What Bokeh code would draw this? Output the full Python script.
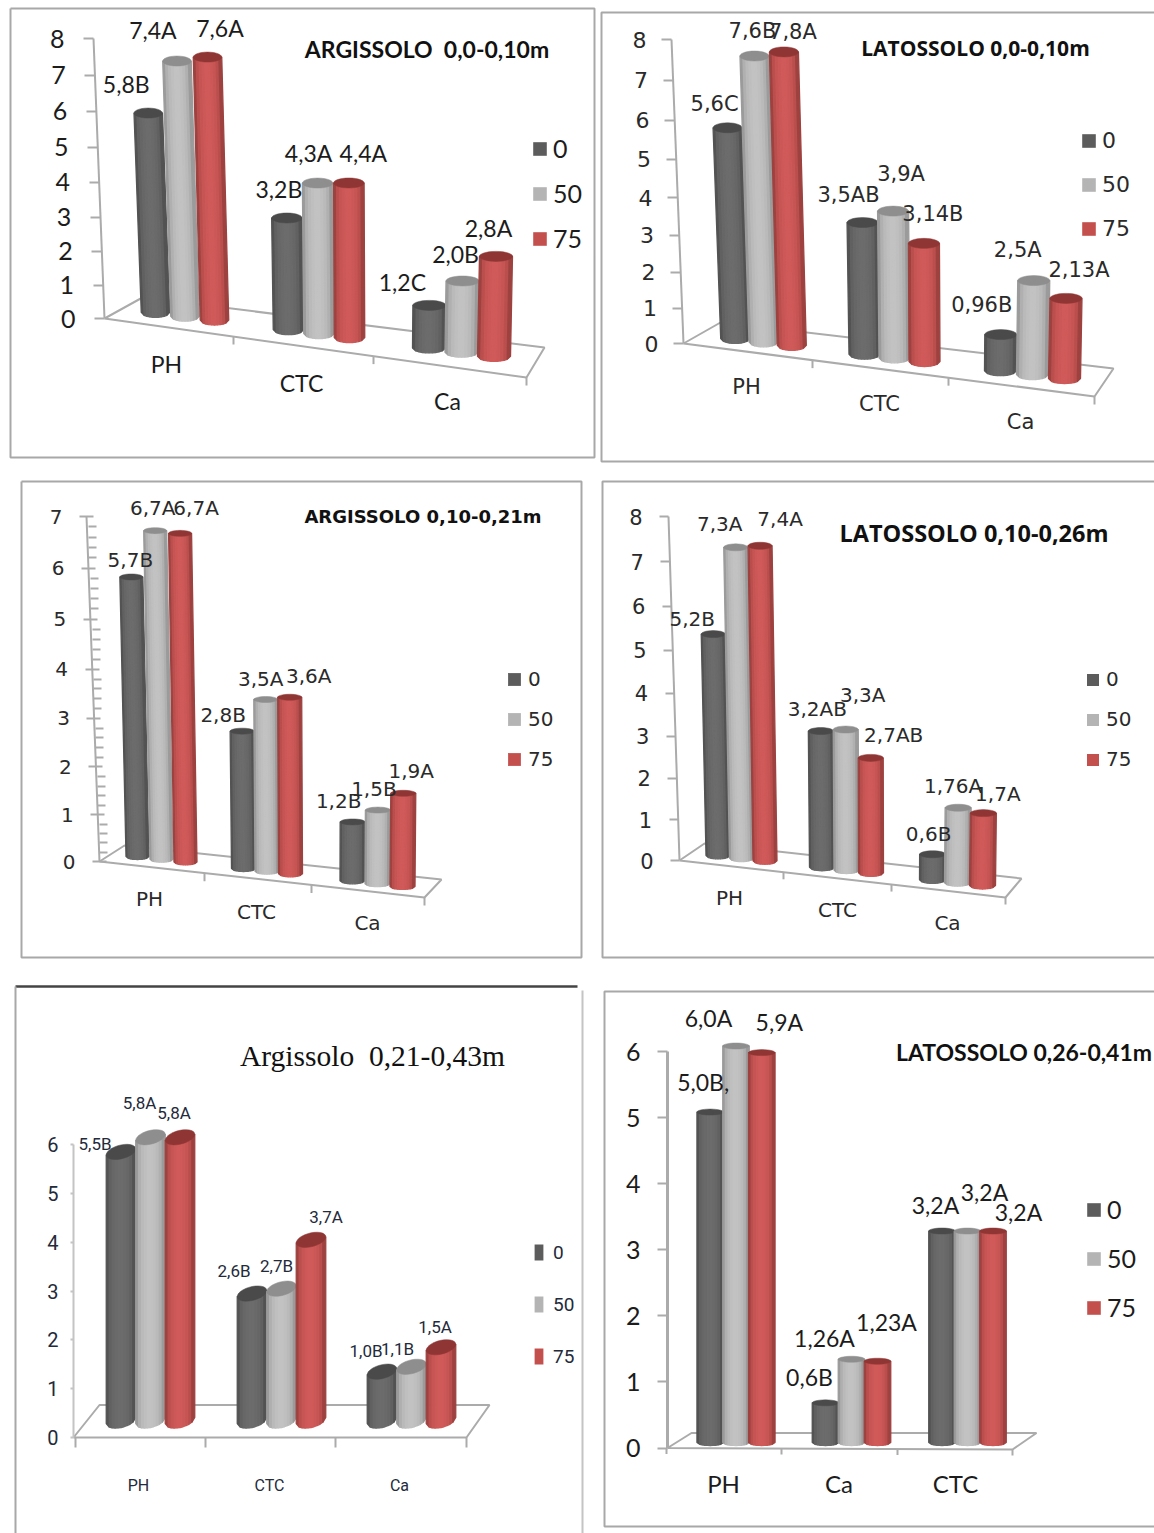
from math import cos, pi, sin, sqrt

from bokeh.core.properties import value
from bokeh.embed import file_html
from bokeh.layouts import column, row
from bokeh.models import (ColumnDataSource, FixedTicker, Legend, LegendItem,
                          LinearAxis, Range1d)
from bokeh.plotting import figure
from bokeh.resources import INLINE

# Dose series shared by all six charts
series_names = ["0", "50", "75"]

# Soil chemistry values, one list per dose, in category order
arg_a_categories = ["PH", "CTC", "Ca"]
arg_a_0 = [5.8, 3.2, 1.2]
arg_a_50 = [7.4, 4.3, 2.0]
arg_a_75 = [7.6, 4.4, 2.8]
arg_a_labels = ["5,8B", "7,4A", "7,6A", "3,2B", "4,3A", "4,4A", "1,2C", "2,0B", "2,8A"]

lat_a_categories = ["PH", "CTC", "Ca"]
lat_a_0 = [5.6, 3.5, 0.96]
lat_a_50 = [7.6, 3.9, 2.5]
lat_a_75 = [7.8, 3.14, 2.13]
lat_a_labels = ["5,6C", "7,6B", "7,8A", "3,5AB", "3,9A", "3,14B", "0,96B", "2,5A", "2,13A"]

arg_b_categories = ["PH", "CTC", "Ca"]
arg_b_0 = [5.7, 2.8, 1.2]
arg_b_50 = [6.7, 3.5, 1.5]
arg_b_75 = [6.7, 3.6, 1.9]
arg_b_labels = ["5,7B", "6,7A", "6,7A", "2,8B", "3,5A", "3,6A", "1,2B", "1,5B", "1,9A"]

lat_b_categories = ["PH", "CTC", "Ca"]
lat_b_0 = [5.2, 3.2, 0.6]
lat_b_50 = [7.3, 3.3, 1.76]
lat_b_75 = [7.4, 2.7, 1.7]
lat_b_labels = ["5,2B", "7,3A", "7,4A", "3,2AB", "3,3A", "2,7AB", "0,6B", "1,76A", "1,7A"]

arg_c_categories = ["PH", "CTC", "Ca"]
arg_c_0 = [5.5, 2.6, 1.0]
arg_c_50 = [5.8, 2.7, 1.1]
arg_c_75 = [5.8, 3.7, 1.5]
arg_c_labels = ["5,5B", "5,8A", "5,8A", "2,6B", "2,7B", "3,7A", "1,0B", "1,1B", "1,5A"]

lat_c_categories = ["PH", "Ca", "CTC"]
lat_c_0 = [5.0, 0.6, 3.2]
lat_c_50 = [6.0, 1.26, 3.2]
lat_c_75 = [5.9, 1.23, 3.2]
lat_c_labels = ["5,0B,", "6,0A", "5,9A", "0,6B", "1,26A", "1,23A", "3,2A", "3,2A", "3,2A"]

# Cylinder shading per dose: edge of body, middle of body, top cap, legend key
EDGE = ["#4b4b4b", "#8f8f8f", "#8f3a38"]
MID = ["#6c6c6c", "#c2c2c2", "#d05a59"]
CAP = ["#4a4a4a", "#8e8e8e", "#8f3634"]
KEY = ["#5c5c5c", "#b4b4b4", "#c4504e"]
AXIS_GRAY = "#ababab"


def blend(a, b, t):
    ca = [int(a[i:i + 2], 16) for i in (1, 3, 5)]
    cb = [int(b[i:i + 2], 16) for i in (1, 3, 5)]
    return "#%02x%02x%02x" % tuple(round(p + (q - p) * t) for p, q in zip(ca, cb))


def make_panel(cfg, vals, labels, cats):
    """One pseudo-3D chart; x is laid out in page units, y in value units."""
    xl, xr, yt, yb = cfg["box"]
    x0, y0, xtop, ytop = cfg["axis"]
    vmax = cfg["vmax"]
    scale = (y0 - ytop) / vmax

    def to_y(py):
        return (y0 - py) / scale

    # The back wall foreshortens towards the floor, so ticks sag a little mid-axis
    bow = cfg.get("bow", 0.0)

    def wall(t):
        return t + bow * t * (vmax - t) / (vmax / 2) ** 2

    p = figure(width=xr - xl, height=yb - yt, x_range=Range1d(xl, xr),
               y_range=Range1d(to_y(yb), to_y(yt)), x_axis_type=None, y_axis_type=None,
               toolbar_location=None, tools="", output_backend="svg",
               min_border=0, outline_line_color=None)

    # Panel frame
    for seg, col, lw in cfg["frame"]:
        p.line([q[0] for q in seg], [to_y(q[1]) for q in seg], line_color=col, line_width=lw)

    # Chart floor
    (fx, fy), (bx1, by1), (bx2, by2) = cfg["floor"]
    p.line([x0, fx, bx2, bx1, x0], [to_y(y0), to_y(fy), to_y(by2), to_y(by1), to_y(y0)],
           line_color=AXIS_GRAY, line_width=2)
    ftick = cfg["floor_ticks"]
    slope = (fy - y0) / (fx - x0)
    fty = [y0 + slope * (t - x0) for t in ftick]
    p.segment(ftick, [to_y(v) for v in fty], ftick, [to_y(v + cfg["ftick_len"]) for v in fty],
              line_color=AXIS_GRAY, line_width=2)

    # Value axis: it leans with the perspective, so every tick gets its own axis
    lean0 = (xtop - x0) / vmax
    p.line([x0, xtop], [0, vmax], line_color=cfg.get("axis_color", AXIS_GRAY),
           line_width=cfg.get("axis_width", 2))
    for t in range(vmax + 1):
        minors = [wall(t + k / 5) for k in range(1, 5)] if cfg.get("minor") and t < vmax else []
        pos = wall(t)
        ax = LinearAxis(fixed_location=x0 + lean0 * t,
                        ticker=FixedTicker(ticks=[pos], minor_ticks=minors),
                        major_label_overrides={pos: str(t)},
                        axis_line_color=None,
                        major_tick_line_color=cfg.get("axis_color", AXIS_GRAY),
                        major_tick_line_width=2,
                        major_tick_in=cfg.get("tick_in", 0), major_tick_out=cfg["tick_out"],
                        minor_tick_line_color=AXIS_GRAY, minor_tick_line_width=2,
                        minor_tick_in=8, minor_tick_out=0,
                        major_label_standoff=cfg["standoff"],
                        major_label_text_font=cfg["font"],
                        major_label_text_font_size=cfg["tick_size"],
                        major_label_text_color=cfg["text_color"])
        p.add_layout(ax, "left")

    # Category names, each at its own depth along the slanted floor
    for name, (cx, cy) in zip(cats, cfg["cat_pos"]):
        ax = LinearAxis(fixed_location=to_y(cy),
                        ticker=FixedTicker(ticks=[cx]),
                        major_label_overrides={cx: name},
                        axis_line_color=None, major_tick_line_color=None,
                        major_tick_in=0, major_tick_out=0, minor_tick_line_color=None,
                        major_label_standoff=0,
                        major_label_text_font=cfg["font"],
                        major_label_text_font_size=cfg["cat_size"],
                        major_label_text_color=cfg["text_color"])
        p.add_layout(ax, "below")

    # Cylinders: shaded strips of the body, then the cap
    xs, ys, colors, widths = [], [], [], []
    lab_x, lab_y = [], []
    (xa, la), (xb, lb) = cfg["lean"]
    (fa_x, fa), (fb_x, fb) = cfg["depth"]
    (bx_ref, by_ref), bslope = cfg["base"]
    ry = cfg["ry"]
    tilt = cfg.get("tilt", 0.0)
    n = 10
    for c in range(3):
        for s in range(3):
            w = cfg["bar_w"][c]
            bx = cfg["groups"][c] + (s - 1) * cfg["bar_step"][c]
            by = by_ref + bslope * (bx - bx_ref)
            # Bars nearer the viewer draw slightly taller for the same value
            v = vals[s][c] * (fa + (fb - fa) * (bx - fa_x) / (fb_x - fa_x))
            shift = (la + (lb - la) * (bx - xa) / (xb - xa)) * v
            base = to_y(by)
            for k in range(n):
                u1, u2 = -1 + 2 * k / n, -1 + 2 * (k + 1) / n
                um = (u1 + u2) / 2
                fb1 = -ry * sqrt(max(0, 1 - u1 * u1)) + tilt * u1
                fb2 = -ry * sqrt(max(0, 1 - u2 * u2)) + tilt * u2
                xs.append([bx + u1 * w / 2, bx + u2 * w / 2,
                           bx + u2 * w / 2 + shift, bx + u1 * w / 2 + shift])
                ys.append([base + fb1 / scale, base + fb2 / scale,
                           base + v + tilt * u2 / scale, base + v + tilt * u1 / scale])
                colors.append(blend(EDGE[s], MID[s], sqrt(max(0, 1 - (um * 1.08) ** 2))))
                widths.append(1.3)
            angles = [2 * pi * i / 28 for i in range(28)]
            xs.append([bx + shift + w / 2 * cos(a) for a in angles])
            ys.append([base + v + (ry * sin(a) + tilt * cos(a)) / scale for a in angles])
            colors.append(CAP[s])
            widths.append(0.5)
            lab_x.append(bx + shift)
            lab_y.append(base + v)
    bars = ColumnDataSource(dict(xs=xs, ys=ys, color=colors, width=widths))
    p.patches("xs", "ys", source=bars, fill_color="color", line_color="color", line_width="width")

    # Value labels, set beside the top of each cylinder
    src = ColumnDataSource(dict(x=lab_x, y=lab_y, text=labels,
                                dx=[d[0] for d in cfg["label_shift"]],
                                dy=[d[1] for d in cfg["label_shift"]]))
    p.text("x", "y", text="text", x_offset="dx", y_offset="dy", source=src,
           text_align="center", text_baseline="middle", text_font=value(cfg["font"]),
           text_font_size=cfg["label_size"], text_color=cfg["text_color"])

    # Chart heading
    tx, ty = cfg["title_pos"]
    p.text([tx], [to_y(ty)], text=[cfg["title"]], text_align="center", text_baseline="middle",
           text_font=value(cfg["title_font"]), text_font_size=cfg["title_size"],
           text_font_style=cfg["title_style"], text_color="#111111")

    # Dose legend; its key swatches come from degenerate quads that stay invisible in the plot
    keys = [p.quad(left=[xl], right=[xl], top=[0], bottom=[0], fill_color=col, line_color=None)
            for col in KEY]
    lx, ly = cfg["legend_pos"]
    lw, lh = cfg["legend_key"]
    item, step = cfg["legend_item"], cfg["legend_step"]
    bottom_px = ly - item / 2 + 3 * item + 2 * (step - item)
    legend = Legend(items=[LegendItem(label=name, renderers=[r]) for name, r in zip(series_names, keys)],
                    location=(lx - xl - 1, yb - bottom_px), orientation="vertical",
                    border_line_color=None, background_fill_alpha=0,
                    padding=0, margin=0, spacing=step - item, glyph_width=lw + 2, glyph_height=lh + 2,
                    label_standoff=cfg["legend_standoff"] - 1, label_height=lh,
                    label_text_font=cfg["font"], label_text_font_size=cfg["legend_size"],
                    label_text_color=cfg["text_color"])
    p.add_layout(legend)
    return p


FRAME = "#a8a8a8"

panels = [
    dict(box=(0, 597, 0, 470), axis=(104, 318, 93, 38), vmax=8, bow=-0.11,
         frame=[([(10, 8), (594, 8), (594, 457), (10, 457), (10, 8)], FRAME, 2)],
         floor=((526, 377), (142, 297), (544, 347)), floor_ticks=[233, 373, 526], ftick_len=8,
         tick_out=10, standoff=19, font="Lato", tick_size="25px", cat_size="23px",
         label_size="23px", legend_size="25px", text_color="#1c1c1c",
         cat_pos=[(166, 349), (301, 368), (447, 386)],
         lean=((185, -1.1), (460, 0.5)), depth=((200, 0.987), (490, 1.02)),
         base=((156, 312), 0.13), ry=5,
         groups=[184.5, 318.5, 461], bar_step=[29.5, 30.5, 32.5], bar_w=[28.5, 30.5, 33],
         label_shift=[(-22, -29), (-24, -31), (12.5, -29), (-8, -29), (-9, -30), (14.5, -30),
                      (-27, -23), (-7, -27), (-7.5, -28)],
         title="ARGISSOLO\u00a0 0,0-0,10m", title_pos=(426.5, 48), title_font="Lato",
         title_size="23px", title_style="bold",
         legend_pos=(532, 148), legend_key=(15, 15), legend_item=30, legend_step=45, legend_standoff=6),
    dict(box=(597, 1154, 0, 470), axis=(683, 343, 671, 39), vmax=8, bow=-0.16,
         frame=[([(1154, 12), (601, 12), (601, 461), (1154, 461)], FRAME, 2)],
         floor=((1094, 396), (720, 322), (1113, 368)), floor_ticks=[812, 948, 1094], ftick_len=8,
         tick_out=10, standoff=15, font="DejaVu Sans", tick_size="22px", cat_size="21px",
         label_size="21px", legend_size="22px", text_color="#2a2a2a",
         cat_pos=[(746, 374), (879, 391), (1020, 409)],
         lean=((763, -1.2), (1032, 0.5)), depth=((763, 0.99), (1032, 0.99)),
         base=((735, 338), 0.1216), ry=5,
         groups=[763, 894, 1032], bar_step=[28.3, 30, 32], bar_w=[29, 31, 32],
         label_shift=[(-13, -24), (-2, -25), (9, -20), (-14, -28), (8, -37.5), (9, -29),
                      (-19, -30), (-16, -31), (13, -28)],
         title="LATOSSOLO 0,0-0,10m", title_pos=(975, 47), title_font="Open Sans",
         title_size="21px", title_style="bold",
         legend_pos=(1081, 138), legend_key=(15, 15), legend_item=26, legend_step=45, legend_standoff=6),
    dict(box=(0, 597, 470, 975), axis=(99, 861, 86, 516), vmax=7, minor=True, bow=-0.1,
         frame=[([(21, 481), (581, 481), (581, 957), (21, 957), (21, 481)], FRAME, 2)],
         floor=((424, 897), (124, 845), (441, 879)), floor_ticks=[204, 311, 424], ftick_len=8,
         tick_out=7, tick_in=7, standoff=17, font="DejaVu Sans", tick_size="20px", cat_size="20px",
         label_size="20px", legend_size="20px", text_color="#2a2a2a",
         cat_pos=[(149, 886), (256, 899), (367, 910)],
         lean=((161, -0.95), (400, 0.4)), depth=((161, 0.995), (400, 0.995)),
         base=((137, 856), 0.113), ry=3,
         groups=[161, 266.5, 377], bar_step=[24, 23.5, 25], bar_w=[23, 24, 25],
         label_shift=[(-1, -17), (-2.5, -23), (16, -25), (-19, -16), (-5, -20), (19, -21),
                      (-14, -21), (-4, -21), (8, -22)],
         title="ARGISSOLO 0,10-0,21m", title_pos=(422.5, 516), title_font="DejaVu Sans",
         title_size="18px", title_style="bold",
         legend_pos=(507, 679), legend_key=(14, 14), legend_item=24, legend_step=40, legend_standoff=7),
    dict(box=(597, 1154, 470, 975), axis=(679, 860, 668, 516), vmax=8, bow=-0.116,
         frame=[([(1154, 481), (602, 481), (602, 957), (1154, 957)], FRAME, 2)],
         floor=((1005, 897), (704, 843), (1021, 878)), floor_ticks=[783, 891, 1005], ftick_len=7,
         tick_out=9, standoff=17, font="DejaVu Sans", tick_size="21px", cat_size="20px",
         label_size="20px", legend_size="20px", text_color="#2a2a2a",
         cat_pos=[(729, 885), (837, 897), (947, 910)],
         lean=((741, -0.8), (982, 0.5)), depth=((741, 0.99), (982, 0.99)),
         base=((718, 855), 0.1136), ry=3.5,
         groups=[741, 846, 957], bar_step=[23.5, 24.5, 25], bar_w=[24, 25, 26],
         label_shift=[(-21, -15.5), (-16, -23.5), (20, -26.5), (-3.5, -22.5), (17, -34.5), (23, -22.5),
                      (-4, -20.5), (-5, -21.5), (14.5, -19.5)],
         title="LATOSSOLO 0,10-0,26m", title_pos=(973.5, 532), title_font="Open Sans",
         title_size="23.5px", title_style="bold",
         legend_pos=(1086, 679), legend_key=(13, 13), legend_item=24, legend_step=40, legend_standoff=7),
    dict(box=(0, 597, 975, 1533), axis=(73, 1437, 73, 1144), vmax=6,
         frame=[([(15, 986), (577, 986)], "#444444", 2.5),
                ([(15, 986), (15, 1533)], FRAME, 2),
                ([(582, 990), (582, 1533)], "#c4c4c4", 2)],
         floor=((466, 1437), (99, 1404.5), (489, 1404.5)), floor_ticks=[75, 205, 335, 466], ftick_len=10,
         tick_out=3, standoff=12, font="Roboto", tick_size="20px", cat_size="16px",
         label_size="17px", legend_size="19px", text_color="#232a3a", axis_color="#c4c4c4",
         cat_pos=[(138, 1475), (269, 1475), (399, 1475)],
         lean=((150, 0.0), (411, 0.0)), depth=((150, 1.0), (411, 1.0)),
         base=((150, 1420), 0.0), ry=7, tilt=3,
         groups=[150, 281, 411], bar_step=[29.5, 29.5, 29.5], bar_w=[29.5, 29.5, 29.5],
         label_shift=[(-26, -8), (-11, -34), (-6, -24), (-18, -23), (-5, -23), (15, -23),
                      (-16, -21), (-14, -18), (-6, -20)],
         title="Argissolo\u00a0 0,21-0,43m", title_pos=(372, 1055), title_font="Liberation Serif",
         title_size="29.5px", title_style="normal",
         legend_pos=(534, 1252), legend_key=(9, 18), legend_item=23, legend_step=52, legend_standoff=10),
    dict(box=(597, 1154, 975, 1533), axis=(667, 1447.5, 667, 1051), vmax=6,
         frame=[([(1154, 991), (604, 991), (604, 1526), (1154, 1526)], FRAME, 2)],
         floor=((1012, 1449), (691, 1432.5), (1036, 1432.5)), floor_ticks=[666, 781, 897, 1012], ftick_len=6,
         tick_out=10, standoff=17, font="Lato", tick_size="25px", cat_size="24px",
         label_size="23px", legend_size="25px", text_color="#1c1c1c", axis_width=3,
         cat_pos=[(723, 1468), (838.5, 1468), (955, 1468)],
         lean=((735, 0.0), (967, 0.0)), depth=((735, 1.0), (967, 1.0)),
         base=((735, 1442), 0.0), ry=3,
         groups=[735.5, 851, 967], bar_step=[25.8, 26, 25.5], bar_w=[26.5, 26.5, 26.5],
         label_shift=[(-7, -30), (-27.5, -28), (17.5, -30.6), (-16, -26), (-27, -21), (9, -39),
                      (-6.5, -26), (17, -39), (25.5, -19)],
         title="LATOSSOLO 0,26-0,41m", title_pos=(1023.5, 1051), title_font="Lato",
         title_size="23px", title_style="bold",
         legend_pos=(1086, 1209), legend_key=(15, 15), legend_item=30, legend_step=49, legend_standoff=6),
]

f1 = make_panel(panels[0], [arg_a_0, arg_a_50, arg_a_75], arg_a_labels, arg_a_categories)
f2 = make_panel(panels[1], [lat_a_0, lat_a_50, lat_a_75], lat_a_labels, lat_a_categories)
f3 = make_panel(panels[2], [arg_b_0, arg_b_50, arg_b_75], arg_b_labels, arg_b_categories)
f4 = make_panel(panels[3], [lat_b_0, lat_b_50, lat_b_75], lat_b_labels, lat_b_categories)
f5 = make_panel(panels[4], [arg_c_0, arg_c_50, arg_c_75], arg_c_labels, arg_c_categories)
f6 = make_panel(panels[5], [lat_c_0, lat_c_50, lat_c_75], lat_c_labels, lat_c_categories)

page = column(row(f1, f2, spacing=0), row(f3, f4, spacing=0), row(f5, f6, spacing=0), spacing=0)
open("out.html", "w").write(file_html(page, INLINE))
